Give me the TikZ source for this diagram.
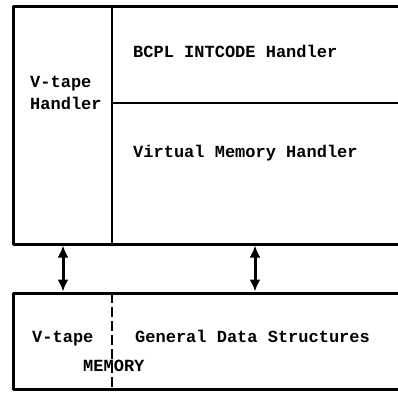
\documentclass[tikz,border=0pt]{standalone}
\usepackage{fontspec}
\setmainfont{Liberation Mono}
\usetikzlibrary{arrows.meta}
\begin{document}
\begin{tikzpicture}[x=1pt,y=-1pt,
  frame/.style={line width=3pt, line join=round},
  divider/.style={line width=2.6pt},
  dashdiv/.style={line width=2.6pt, dash pattern=on 10pt off 4pt},
  txt/.style={font=\bfseries\fontsize{17}{20}\selectfont, inner sep=0pt, anchor=base west},
  dbl/.style={{Latex[length=12pt,width=11pt]}-{Latex[length=12pt,width=11pt]}, line width=3pt}]
\useasboundingbox (0,0) rectangle (398,392);
% top block
\coordinate (ttl) at (13.5,6);
\coordinate (ttr) at (400,6);
\coordinate (tbl) at (13.5,244);
\coordinate (tbr) at (400,244);
\coordinate (tdivt) at (112,6);
\coordinate (tdivb) at (112,244);
\coordinate (hdl) at (112,103);
\coordinate (hdr) at (400,103);
\draw[frame] (ttr) -- (ttl) -- (tbl) -- (tbr);
\draw[divider] (tdivt) -- (tdivb);
\draw[divider] (hdl) -- (hdr);
% bottom block
\coordinate (btl) at (13.5,293);
\coordinate (btr) at (400,293);
\coordinate (bbl) at (13.5,389);
\coordinate (bbr) at (400,389);
\coordinate (bdivt) at (112,293);
\coordinate (bdivb) at (112,389);
\draw[frame] (btr) -- (btl) -- (bbl) -- (bbr);
\draw[dashdiv] (bdivt) -- (bdivb);
% texts
\node[txt] (vt1) at (30,87) {V-tape};
\node[txt] (vt2) at (30,109) {Handler};
\node[txt] (bcpl) at (133,57) {BCPL INTCODE Handler};
\node[txt] (vmh) at (133,157) {Virtual Memory Handler};
\node[txt] (vtb) at (32,342) {V-tape};
\node[txt] (gds) at (135,342) {General Data Structures};
\node[txt] (mem) at (83,371) {MEMORY};
% arrows
\coordinate (a1t) at (63,245.5);
\coordinate (a1b) at (63,291.5);
\coordinate (a2t) at (255,245.5);
\coordinate (a2b) at (255,291.5);
\draw[dbl] (a1t) -- (a1b);
\draw[dbl] (a2t) -- (a2b);
\end{tikzpicture}
\end{document}
